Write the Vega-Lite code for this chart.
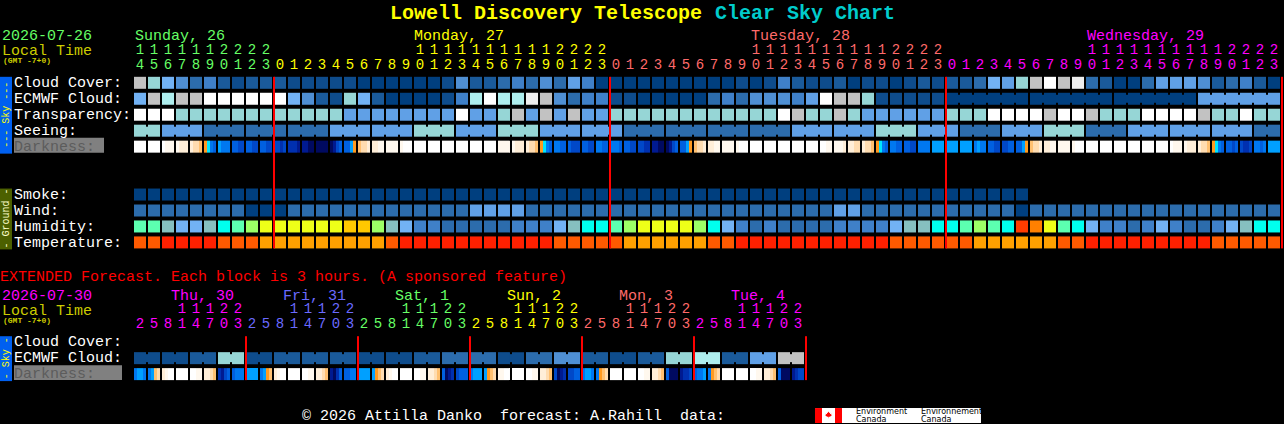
{"$schema":"https://vega.github.io/schema/vega-lite/v6.json","autosize":{"type":"fit","contains":"padding"},"width":1284,"height":424,"padding":0,"background":"#000000","config":{"view":{"stroke":null},"text":{"font":"Liberation Mono"}},
"datasets":{
"panels":[{"line":-0.375,"lineEnd":4.4375,"col":-10,"colEnd":-9.143,"level":"sky"},{"line":6.625,"lineEnd":10.4375,"col":-10,"colEnd":-9.143,"level":"ground"},{"line":15.875,"lineEnd":18.6875,"col":-10,"colEnd":-9.143,"level":"sky"},{"line":3.4375,"lineEnd":4.375,"col":-9,"colEnd":-2.571,"level":"band"},{"line":17.6875,"lineEnd":18.625,"col":-9,"colEnd":-1.286,"level":"band"},{"line":20.375,"lineEnd":21.3125,"col":48.214,"colEnd":60.071,"level":"twhite"},{"line":20.375,"lineEnd":21.3125,"col":48.214,"colEnd":48.714,"level":"tred"},{"line":20.375,"lineEnd":21.3125,"col":49.643,"colEnd":50.143,"level":"tred"}],
"cells":[
{"line":0,"col":0,"level":"p10"},{"line":0,"col":1,"level":"p8"},{"line":0,"col":2,"level":"p7"},{"line":0,"col":3,"level":"p5"},{"line":0,"col":4,"level":"p3"},{"line":0,"col":5,"level":"p4"},{"line":0,"col":6,"level":"p2"},{"line":0,"col":7,"level":"p1"},{"line":0,"col":8,"level":"p2"},{"line":0,"col":9,"level":"p2"},{"line":0,"col":10,"level":"p2"},{"line":0,"col":11,"level":"p1"},{"line":0,"col":12,"level":"p1"},{"line":0,"col":13,"level":"p1"},{"line":0,"col":14,"level":"p1"},{"line":0,"col":15,"level":"p1"},{"line":0,"col":16,"level":"p0"},{"line":0,"col":17,"level":"p0"},{"line":0,"col":18,"level":"p0"},{"line":0,"col":19,"level":"p0"},{"line":0,"col":20,"level":"p0"},{"line":0,"col":21,"level":"p0"},{"line":0,"col":22,"level":"p1"},{"line":0,"col":23,"level":"p5"},{"line":0,"col":24,"level":"p2"},{"line":0,"col":25,"level":"p2"},{"line":0,"col":26,"level":"p3"},{"line":0,"col":27,"level":"p4"},{"line":0,"col":28,"level":"p3"},{"line":0,"col":29,"level":"p5"},{"line":0,"col":30,"level":"p3"},{"line":0,"col":31,"level":"p6"},{"line":0,"col":32,"level":"p4"},{"line":0,"col":33,"level":"p0"},{"line":0,"col":34,"level":"p0"},{"line":0,"col":35,"level":"p0"},{"line":0,"col":36,"level":"p0"},{"line":0,"col":37,"level":"p0"},{"line":0,"col":38,"level":"p0"},{"line":0,"col":39,"level":"p0"},{"line":0,"col":40,"level":"p0"},{"line":0,"col":41,"level":"p0"},{"line":0,"col":42,"level":"p0"},{"line":0,"col":43,"level":"p1"},{"line":0,"col":44,"level":"p0"},{"line":0,"col":45,"level":"p1"},{"line":0,"col":46,"level":"p4"},{"line":0,"col":47,"level":"p2"},{"line":0,"col":48,"level":"p1"},{"line":0,"col":49,"level":"p1"},{"line":0,"col":50,"level":"p2"},{"line":0,"col":51,"level":"p0"},{"line":0,"col":52,"level":"p1"},{"line":0,"col":53,"level":"p1"},{"line":0,"col":54,"level":"p0"},{"line":0,"col":55,"level":"p1"},{"line":0,"col":56,"level":"p2"},{"line":0,"col":57,"level":"p1"},{"line":0,"col":58,"level":"p2"},{"line":0,"col":59,"level":"p2"},{"line":0,"col":60,"level":"p3"},{"line":0,"col":61,"level":"p7"},{"line":0,"col":62,"level":"p6"},{"line":0,"col":63,"level":"p8"},{"line":0,"col":64,"level":"p10"},{"line":0,"col":65,"level":"p12"},{"line":0,"col":66,"level":"p10"},{"line":0,"col":67,"level":"p11"},{"line":0,"col":68,"level":"p3"},{"line":0,"col":69,"level":"p2"},{"line":0,"col":70,"level":"p0"},{"line":0,"col":71,"level":"p0"},{"line":0,"col":72,"level":"p3"},{"line":0,"col":73,"level":"p6"},{"line":0,"col":74,"level":"p6"},{"line":0,"col":75,"level":"p6"},{"line":0,"col":76,"level":"p5"},{"line":0,"col":77,"level":"p2"},{"line":0,"col":78,"level":"p3"},{"line":0,"col":79,"level":"p4"},{"line":0,"col":80,"level":"p2"},{"line":0,"col":81,"level":"p0"},
{"line":1,"col":0,"level":"p7"},{"line":1,"col":1,"level":"p10"},{"line":1,"col":2,"level":"p9"},{"line":1,"col":3,"level":"p10"},{"line":1,"col":4,"level":"p10"},{"line":1,"col":5,"level":"p12"},{"line":1,"col":6,"level":"p12"},{"line":1,"col":7,"level":"p12"},{"line":1,"col":8,"level":"p12"},{"line":1,"col":9,"level":"p12"},{"line":1,"col":10,"level":"p12"},{"line":1,"col":11,"level":"p7"},{"line":1,"col":12,"level":"p5"},{"line":1,"col":13,"level":"p2"},{"line":1,"col":14,"level":"p1"},{"line":1,"col":15,"level":"p8"},{"line":1,"col":16,"level":"p7"},{"line":1,"col":17,"level":"p2"},{"line":1,"col":18,"level":"p0"},{"line":1,"col":19,"level":"p0"},{"line":1,"col":20,"level":"p0"},{"line":1,"col":21,"level":"p0"},{"line":1,"col":22,"level":"p1"},{"line":1,"col":23,"level":"p4"},{"line":1,"col":24,"level":"p9"},{"line":1,"col":25,"level":"p12"},{"line":1,"col":26,"level":"p9"},{"line":1,"col":27,"level":"p9"},{"line":1,"col":28,"level":"p11"},{"line":1,"col":29,"level":"p10"},{"line":1,"col":30,"level":"p5"},{"line":1,"col":31,"level":"p3"},{"line":1,"col":32,"level":"p4"},{"line":1,"col":33,"level":"p4"},{"line":1,"col":34,"level":"p1"},{"line":1,"col":35,"level":"p1"},{"line":1,"col":36,"level":"p0"},{"line":1,"col":37,"level":"p0"},{"line":1,"col":38,"level":"p0"},{"line":1,"col":39,"level":"p0"},{"line":1,"col":40,"level":"p0"},{"line":1,"col":41,"level":"p3"},{"line":1,"col":42,"level":"p4"},{"line":1,"col":43,"level":"p3"},{"line":1,"col":44,"level":"p5"},{"line":1,"col":45,"level":"p5"},{"line":1,"col":46,"level":"p5"},{"line":1,"col":47,"level":"p4"},{"line":1,"col":48,"level":"p6"},{"line":1,"col":49,"level":"p12"},{"line":1,"col":50,"level":"p10"},{"line":1,"col":51,"level":"p10"},{"line":1,"col":52,"level":"p8"},{"line":1,"col":53,"level":"p1"},{"line":1,"col":54,"level":"p1"},{"line":1,"col":55,"level":"p1"},{"line":1,"col":56,"level":"p1"},{"line":1,"col":57,"level":"p1"},{"line":1,"col":58,"level":"p0"},{"line":1,"col":59,"level":"p0"},{"line":1,"col":60,"level":"p0"},{"line":1,"col":61,"level":"p0"},{"line":1,"col":62,"level":"p0"},{"line":1,"col":63,"level":"p0"},{"line":1,"col":64,"level":"p0"},{"line":1,"col":65,"level":"p0"},{"line":1,"col":66,"level":"p0"},{"line":1,"col":67,"level":"p0"},{"line":1,"col":68,"level":"p0"},{"line":1,"col":69,"level":"p0"},{"line":1,"col":70,"level":"p0"},{"line":1,"col":71,"level":"p0"},{"line":1,"col":72,"level":"p0"},{"line":1,"col":73,"level":"p0"},{"line":1,"col":74,"level":"p0"},{"line":1,"col":75,"level":"p0"},{"line":1,"col":76,"level":"p6"},{"line":1,"col":77,"level":"p6"},{"line":1,"col":78,"level":"p6"},{"line":1,"col":79,"level":"p6"},{"line":1,"col":80,"level":"p6"},{"line":1,"col":81,"level":"p6"},
{"line":2,"col":0,"level":"p12"},{"line":2,"col":1,"level":"p12"},{"line":2,"col":2,"level":"p12"},{"line":2,"col":3,"level":"p8"},{"line":2,"col":4,"level":"p8"},{"line":2,"col":5,"level":"p8"},{"line":2,"col":6,"level":"p8"},{"line":2,"col":7,"level":"p8"},{"line":2,"col":8,"level":"p8"},{"line":2,"col":9,"level":"p8"},{"line":2,"col":10,"level":"p8"},{"line":2,"col":11,"level":"p8"},{"line":2,"col":12,"level":"p8"},{"line":2,"col":13,"level":"p8"},{"line":2,"col":14,"level":"p8"},{"line":2,"col":15,"level":"p6"},{"line":2,"col":16,"level":"p6"},{"line":2,"col":17,"level":"p6"},{"line":2,"col":18,"level":"p6"},{"line":2,"col":19,"level":"p6"},{"line":2,"col":20,"level":"p6"},{"line":2,"col":21,"level":"p6"},{"line":2,"col":22,"level":"p6"},{"line":2,"col":23,"level":"p12"},{"line":2,"col":24,"level":"p6"},{"line":2,"col":25,"level":"p6"},{"line":2,"col":26,"level":"p8"},{"line":2,"col":27,"level":"p10"},{"line":2,"col":28,"level":"p6"},{"line":2,"col":29,"level":"p10"},{"line":2,"col":30,"level":"p6"},{"line":2,"col":31,"level":"p10"},{"line":2,"col":32,"level":"p6"},{"line":2,"col":33,"level":"p6"},{"line":2,"col":34,"level":"p8"},{"line":2,"col":35,"level":"p8"},{"line":2,"col":36,"level":"p8"},{"line":2,"col":37,"level":"p8"},{"line":2,"col":38,"level":"p8"},{"line":2,"col":39,"level":"p8"},{"line":2,"col":40,"level":"p8"},{"line":2,"col":41,"level":"p8"},{"line":2,"col":42,"level":"p8"},{"line":2,"col":43,"level":"p8"},{"line":2,"col":44,"level":"p8"},{"line":2,"col":45,"level":"p8"},{"line":2,"col":46,"level":"p12"},{"line":2,"col":47,"level":"p10"},{"line":2,"col":48,"level":"p8"},{"line":2,"col":49,"level":"p8"},{"line":2,"col":50,"level":"p10"},{"line":2,"col":51,"level":"p8"},{"line":2,"col":52,"level":"p6"},{"line":2,"col":53,"level":"p6"},{"line":2,"col":54,"level":"p6"},{"line":2,"col":55,"level":"p6"},{"line":2,"col":56,"level":"p6"},{"line":2,"col":57,"level":"p6"},{"line":2,"col":58,"level":"p8"},{"line":2,"col":59,"level":"p8"},{"line":2,"col":60,"level":"p8"},{"line":2,"col":61,"level":"p12"},{"line":2,"col":62,"level":"p12"},{"line":2,"col":63,"level":"p12"},{"line":2,"col":64,"level":"p12"},{"line":2,"col":65,"level":"p10"},{"line":2,"col":66,"level":"p12"},{"line":2,"col":67,"level":"p12"},{"line":2,"col":68,"level":"p10"},{"line":2,"col":69,"level":"p8"},{"line":2,"col":70,"level":"p8"},{"line":2,"col":71,"level":"p8"},{"line":2,"col":72,"level":"p12"},{"line":2,"col":73,"level":"p12"},{"line":2,"col":74,"level":"p12"},{"line":2,"col":75,"level":"p12"},{"line":2,"col":76,"level":"p10"},{"line":2,"col":77,"level":"p8"},{"line":2,"col":78,"level":"p8"},{"line":2,"col":79,"level":"p12"},{"line":2,"col":80,"level":"p8"},{"line":2,"col":81,"level":"p8"},
{"line":3,"col":0,"level":"p8"},{"line":3,"col":1,"level":"p8"},{"line":3,"col":2,"level":"p6"},{"line":3,"col":3,"level":"p6"},{"line":3,"col":4,"level":"p6"},{"line":3,"col":5,"level":"p3"},{"line":3,"col":6,"level":"p3"},{"line":3,"col":7,"level":"p3"},{"line":3,"col":8,"level":"p3"},{"line":3,"col":9,"level":"p3"},{"line":3,"col":10,"level":"p3"},{"line":3,"col":11,"level":"p3"},{"line":3,"col":12,"level":"p3"},{"line":3,"col":13,"level":"p3"},{"line":3,"col":14,"level":"p6"},{"line":3,"col":15,"level":"p6"},{"line":3,"col":16,"level":"p6"},{"line":3,"col":17,"level":"p6"},{"line":3,"col":18,"level":"p6"},{"line":3,"col":19,"level":"p6"},{"line":3,"col":20,"level":"p8"},{"line":3,"col":21,"level":"p8"},{"line":3,"col":22,"level":"p8"},{"line":3,"col":23,"level":"p6"},{"line":3,"col":24,"level":"p6"},{"line":3,"col":25,"level":"p6"},{"line":3,"col":26,"level":"p8"},{"line":3,"col":27,"level":"p8"},{"line":3,"col":28,"level":"p8"},{"line":3,"col":29,"level":"p6"},{"line":3,"col":30,"level":"p6"},{"line":3,"col":31,"level":"p6"},{"line":3,"col":32,"level":"p6"},{"line":3,"col":33,"level":"p6"},{"line":3,"col":34,"level":"p6"},{"line":3,"col":35,"level":"p3"},{"line":3,"col":36,"level":"p3"},{"line":3,"col":37,"level":"p3"},{"line":3,"col":38,"level":"p3"},{"line":3,"col":39,"level":"p3"},{"line":3,"col":40,"level":"p3"},{"line":3,"col":41,"level":"p3"},{"line":3,"col":42,"level":"p3"},{"line":3,"col":43,"level":"p3"},{"line":3,"col":44,"level":"p3"},{"line":3,"col":45,"level":"p3"},{"line":3,"col":46,"level":"p3"},{"line":3,"col":47,"level":"p6"},{"line":3,"col":48,"level":"p6"},{"line":3,"col":49,"level":"p6"},{"line":3,"col":50,"level":"p6"},{"line":3,"col":51,"level":"p6"},{"line":3,"col":52,"level":"p6"},{"line":3,"col":53,"level":"p8"},{"line":3,"col":54,"level":"p8"},{"line":3,"col":55,"level":"p8"},{"line":3,"col":56,"level":"p6"},{"line":3,"col":57,"level":"p6"},{"line":3,"col":58,"level":"p6"},{"line":3,"col":59,"level":"p3"},{"line":3,"col":60,"level":"p3"},{"line":3,"col":61,"level":"p3"},{"line":3,"col":62,"level":"p6"},{"line":3,"col":63,"level":"p6"},{"line":3,"col":64,"level":"p6"},{"line":3,"col":65,"level":"p8"},{"line":3,"col":66,"level":"p8"},{"line":3,"col":67,"level":"p8"},{"line":3,"col":68,"level":"p3"},{"line":3,"col":69,"level":"p3"},{"line":3,"col":70,"level":"p3"},{"line":3,"col":71,"level":"p6"},{"line":3,"col":72,"level":"p6"},{"line":3,"col":73,"level":"p6"},{"line":3,"col":74,"level":"p6"},{"line":3,"col":75,"level":"p6"},{"line":3,"col":76,"level":"p6"},{"line":3,"col":77,"level":"p6"},{"line":3,"col":78,"level":"p6"},{"line":3,"col":79,"level":"p6"},{"line":3,"col":80,"level":"p3"},{"line":3,"col":81,"level":"p3"},
{"line":4,"col":0,"level":"d0"},{"line":4,"col":1,"level":"d0"},{"line":4,"col":13,"level":"d13"},{"line":4,"col":18,"level":"d1"},{"line":4,"col":20,"level":"d0"},{"line":4,"col":21,"level":"d0"},{"line":4,"col":22,"level":"d0"},{"line":4,"col":23,"level":"d0"},{"line":4,"col":24,"level":"d0"},{"line":4,"col":25,"level":"d0"},{"line":4,"col":26,"level":"d1"},{"line":4,"col":42,"level":"d1"},{"line":4,"col":44,"level":"d0"},{"line":4,"col":45,"level":"d0"},{"line":4,"col":46,"level":"d0"},{"line":4,"col":47,"level":"d0"},{"line":4,"col":48,"level":"d0"},{"line":4,"col":56,"level":"d8"},{"line":4,"col":57,"level":"d7"},{"line":4,"col":58,"level":"d7"},{"line":4,"col":59,"level":"d7"},{"line":4,"col":66,"level":"d1"},{"line":4,"col":68,"level":"d0"},{"line":4,"col":69,"level":"d0"},{"line":4,"col":70,"level":"d0"},{"line":4,"col":71,"level":"d0"},{"line":4,"col":72,"level":"d0"},{"line":4,"col":73,"level":"d0"},{"line":4,"col":81,"level":"d7"},
{"line":7,"col":0,"level":"p0"},{"line":7,"col":1,"level":"p0"},{"line":7,"col":2,"level":"p0"},{"line":7,"col":3,"level":"p0"},{"line":7,"col":4,"level":"p0"},{"line":7,"col":5,"level":"p0"},{"line":7,"col":6,"level":"p0"},{"line":7,"col":7,"level":"p0"},{"line":7,"col":8,"level":"p0"},{"line":7,"col":9,"level":"p0"},{"line":7,"col":10,"level":"p0"},{"line":7,"col":11,"level":"p0"},{"line":7,"col":12,"level":"p0"},{"line":7,"col":13,"level":"p0"},{"line":7,"col":14,"level":"p0"},{"line":7,"col":15,"level":"p0"},{"line":7,"col":16,"level":"p0"},{"line":7,"col":17,"level":"p0"},{"line":7,"col":18,"level":"p0"},{"line":7,"col":19,"level":"p0"},{"line":7,"col":20,"level":"p0"},{"line":7,"col":21,"level":"p0"},{"line":7,"col":22,"level":"p0"},{"line":7,"col":23,"level":"p0"},{"line":7,"col":24,"level":"p0"},{"line":7,"col":25,"level":"p0"},{"line":7,"col":26,"level":"p0"},{"line":7,"col":27,"level":"p0"},{"line":7,"col":28,"level":"p0"},{"line":7,"col":29,"level":"p0"},{"line":7,"col":30,"level":"p0"},{"line":7,"col":31,"level":"p0"},{"line":7,"col":32,"level":"p0"},{"line":7,"col":33,"level":"p0"},{"line":7,"col":34,"level":"p0"},{"line":7,"col":35,"level":"p0"},{"line":7,"col":36,"level":"p0"},{"line":7,"col":37,"level":"p0"},{"line":7,"col":38,"level":"p0"},{"line":7,"col":39,"level":"p0"},{"line":7,"col":40,"level":"p0"},{"line":7,"col":41,"level":"p0"},{"line":7,"col":42,"level":"p0"},{"line":7,"col":43,"level":"p0"},{"line":7,"col":44,"level":"p0"},{"line":7,"col":45,"level":"p0"},{"line":7,"col":46,"level":"p0"},{"line":7,"col":47,"level":"p0"},{"line":7,"col":48,"level":"p0"},{"line":7,"col":49,"level":"p0"},{"line":7,"col":50,"level":"p0"},{"line":7,"col":51,"level":"p0"},{"line":7,"col":52,"level":"p0"},{"line":7,"col":53,"level":"p0"},{"line":7,"col":54,"level":"p0"},{"line":7,"col":55,"level":"p0"},{"line":7,"col":56,"level":"p0"},{"line":7,"col":57,"level":"p0"},{"line":7,"col":58,"level":"p0"},{"line":7,"col":59,"level":"p0"},{"line":7,"col":60,"level":"p0"},{"line":7,"col":61,"level":"p0"},{"line":7,"col":62,"level":"p0"},{"line":7,"col":63,"level":"p0"},
{"line":8,"col":0,"level":"p3"},{"line":8,"col":1,"level":"p3"},{"line":8,"col":2,"level":"p3"},{"line":8,"col":3,"level":"p3"},{"line":8,"col":4,"level":"p3"},{"line":8,"col":5,"level":"p3"},{"line":8,"col":6,"level":"p3"},{"line":8,"col":7,"level":"p3"},{"line":8,"col":8,"level":"p0"},{"line":8,"col":9,"level":"p0"},{"line":8,"col":10,"level":"p0"},{"line":8,"col":11,"level":"p3"},{"line":8,"col":12,"level":"p3"},{"line":8,"col":13,"level":"p3"},{"line":8,"col":14,"level":"p3"},{"line":8,"col":15,"level":"p3"},{"line":8,"col":16,"level":"p3"},{"line":8,"col":17,"level":"p3"},{"line":8,"col":18,"level":"p3"},{"line":8,"col":19,"level":"p3"},{"line":8,"col":20,"level":"p3"},{"line":8,"col":21,"level":"p3"},{"line":8,"col":22,"level":"p3"},{"line":8,"col":23,"level":"p3"},{"line":8,"col":24,"level":"p6"},{"line":8,"col":25,"level":"p6"},{"line":8,"col":26,"level":"p6"},{"line":8,"col":27,"level":"p6"},{"line":8,"col":28,"level":"p3"},{"line":8,"col":29,"level":"p3"},{"line":8,"col":30,"level":"p3"},{"line":8,"col":31,"level":"p3"},{"line":8,"col":32,"level":"p3"},{"line":8,"col":33,"level":"p3"},{"line":8,"col":34,"level":"p3"},{"line":8,"col":35,"level":"p3"},{"line":8,"col":36,"level":"p3"},{"line":8,"col":37,"level":"p3"},{"line":8,"col":38,"level":"p3"},{"line":8,"col":39,"level":"p3"},{"line":8,"col":40,"level":"p3"},{"line":8,"col":41,"level":"p3"},{"line":8,"col":42,"level":"p3"},{"line":8,"col":43,"level":"p3"},{"line":8,"col":44,"level":"p3"},{"line":8,"col":45,"level":"p3"},{"line":8,"col":46,"level":"p3"},{"line":8,"col":47,"level":"p3"},{"line":8,"col":48,"level":"p3"},{"line":8,"col":49,"level":"p3"},{"line":8,"col":50,"level":"p6"},{"line":8,"col":51,"level":"p6"},{"line":8,"col":52,"level":"p3"},{"line":8,"col":53,"level":"p3"},{"line":8,"col":54,"level":"p3"},{"line":8,"col":55,"level":"p3"},{"line":8,"col":56,"level":"p3"},{"line":8,"col":57,"level":"p3"},{"line":8,"col":58,"level":"p3"},{"line":8,"col":59,"level":"p3"},{"line":8,"col":60,"level":"p3"},{"line":8,"col":61,"level":"p3"},{"line":8,"col":62,"level":"p3"},{"line":8,"col":63,"level":"p0"},{"line":8,"col":64,"level":"p3"},{"line":8,"col":65,"level":"p3"},{"line":8,"col":66,"level":"p3"},{"line":8,"col":67,"level":"p3"},{"line":8,"col":68,"level":"p3"},{"line":8,"col":69,"level":"p3"},{"line":8,"col":70,"level":"p3"},{"line":8,"col":71,"level":"p3"},{"line":8,"col":72,"level":"p3"},{"line":8,"col":73,"level":"p3"},{"line":8,"col":74,"level":"p3"},{"line":8,"col":75,"level":"p3"},{"line":8,"col":76,"level":"p3"},{"line":8,"col":77,"level":"p3"},{"line":8,"col":78,"level":"p3"},{"line":8,"col":79,"level":"p3"},{"line":8,"col":80,"level":"p3"},{"line":8,"col":81,"level":"p3"},
{"line":9,"col":0,"level":"mint"},{"line":9,"col":1,"level":"mint"},{"line":9,"col":2,"level":"sage"},{"line":9,"col":3,"level":"p7"},{"line":9,"col":4,"level":"p7"},{"line":9,"col":5,"level":"sage"},{"line":9,"col":6,"level":"cyan"},{"line":9,"col":7,"level":"mint"},{"line":9,"col":8,"level":"lime"},{"line":9,"col":9,"level":"lemon"},{"line":9,"col":10,"level":"lemon"},{"line":9,"col":11,"level":"lemon"},{"line":9,"col":12,"level":"lemon"},{"line":9,"col":13,"level":"lemon"},{"line":9,"col":14,"level":"lemon"},{"line":9,"col":15,"level":"gold"},{"line":9,"col":16,"level":"gold"},{"line":9,"col":17,"level":"lime"},{"line":9,"col":18,"level":"sage"},{"line":9,"col":19,"level":"p7"},{"line":9,"col":20,"level":"p4"},{"line":9,"col":21,"level":"p4"},{"line":9,"col":22,"level":"p3"},{"line":9,"col":23,"level":"p3"},{"line":9,"col":24,"level":"p3"},{"line":9,"col":25,"level":"p3"},{"line":9,"col":26,"level":"p3"},{"line":9,"col":27,"level":"p4"},{"line":9,"col":28,"level":"p4"},{"line":9,"col":29,"level":"p4"},{"line":9,"col":30,"level":"p7"},{"line":9,"col":31,"level":"sage"},{"line":9,"col":32,"level":"cyan"},{"line":9,"col":33,"level":"cyan"},{"line":9,"col":34,"level":"mint"},{"line":9,"col":35,"level":"lime"},{"line":9,"col":36,"level":"lemon"},{"line":9,"col":37,"level":"lemon"},{"line":9,"col":38,"level":"lemon"},{"line":9,"col":39,"level":"lemon"},{"line":9,"col":40,"level":"lime"},{"line":9,"col":41,"level":"cyan"},{"line":9,"col":42,"level":"p7"},{"line":9,"col":43,"level":"p4"},{"line":9,"col":44,"level":"p3"},{"line":9,"col":45,"level":"p4"},{"line":9,"col":46,"level":"p3"},{"line":9,"col":47,"level":"p3"},{"line":9,"col":48,"level":"p3"},{"line":9,"col":49,"level":"p3"},{"line":9,"col":50,"level":"p4"},{"line":9,"col":51,"level":"p4"},{"line":9,"col":52,"level":"p4"},{"line":9,"col":53,"level":"p4"},{"line":9,"col":54,"level":"p7"},{"line":9,"col":55,"level":"sage"},{"line":9,"col":56,"level":"sage"},{"line":9,"col":57,"level":"cyan"},{"line":9,"col":58,"level":"cyan"},{"line":9,"col":59,"level":"mint"},{"line":9,"col":60,"level":"lime"},{"line":9,"col":61,"level":"mint"},{"line":9,"col":62,"level":"cyan"},{"line":9,"col":63,"level":"scarlet"},{"line":9,"col":64,"level":"tangerine"},{"line":9,"col":65,"level":"lemon"},{"line":9,"col":66,"level":"mint"},{"line":9,"col":67,"level":"cyan"},{"line":9,"col":68,"level":"p7"},{"line":9,"col":69,"level":"p4"},{"line":9,"col":70,"level":"p4"},{"line":9,"col":71,"level":"p3"},{"line":9,"col":72,"level":"p4"},{"line":9,"col":73,"level":"p7"},{"line":9,"col":74,"level":"p4"},{"line":9,"col":75,"level":"p3"},{"line":9,"col":76,"level":"p3"},{"line":9,"col":77,"level":"p4"},{"line":9,"col":78,"level":"p7"},{"line":9,"col":79,"level":"sage"},{"line":9,"col":80,"level":"cyan"},{"line":9,"col":81,"level":"cyan"},
{"line":10,"col":0,"level":"hot"},{"line":10,"col":1,"level":"hot"},{"line":10,"col":2,"level":"fire"},{"line":10,"col":3,"level":"fire"},{"line":10,"col":4,"level":"fire"},{"line":10,"col":5,"level":"fire"},{"line":10,"col":6,"level":"hot"},{"line":10,"col":7,"level":"hot"},{"line":10,"col":8,"level":"hot"},{"line":10,"col":9,"level":"amber"},{"line":10,"col":10,"level":"amber"},{"line":10,"col":11,"level":"amber"},{"line":10,"col":12,"level":"amber"},{"line":10,"col":13,"level":"amber"},{"line":10,"col":14,"level":"amber"},{"line":10,"col":15,"level":"amber"},{"line":10,"col":16,"level":"amber"},{"line":10,"col":17,"level":"amber"},{"line":10,"col":18,"level":"hot"},{"line":10,"col":19,"level":"fire"},{"line":10,"col":20,"level":"fire"},{"line":10,"col":21,"level":"fire"},{"line":10,"col":22,"level":"fire"},{"line":10,"col":23,"level":"fire"},{"line":10,"col":24,"level":"fire"},{"line":10,"col":25,"level":"fire"},{"line":10,"col":26,"level":"fire"},{"line":10,"col":27,"level":"fire"},{"line":10,"col":28,"level":"fire"},{"line":10,"col":29,"level":"fire"},{"line":10,"col":30,"level":"hot"},{"line":10,"col":31,"level":"hot"},{"line":10,"col":32,"level":"hot"},{"line":10,"col":33,"level":"hot"},{"line":10,"col":34,"level":"hot"},{"line":10,"col":35,"level":"amber"},{"line":10,"col":36,"level":"amber"},{"line":10,"col":37,"level":"amber"},{"line":10,"col":38,"level":"amber"},{"line":10,"col":39,"level":"amber"},{"line":10,"col":40,"level":"amber"},{"line":10,"col":41,"level":"hot"},{"line":10,"col":42,"level":"hot"},{"line":10,"col":43,"level":"fire"},{"line":10,"col":44,"level":"fire"},{"line":10,"col":45,"level":"fire"},{"line":10,"col":46,"level":"fire"},{"line":10,"col":47,"level":"fire"},{"line":10,"col":48,"level":"fire"},{"line":10,"col":49,"level":"fire"},{"line":10,"col":50,"level":"fire"},{"line":10,"col":51,"level":"fire"},{"line":10,"col":52,"level":"fire"},{"line":10,"col":53,"level":"fire"},{"line":10,"col":54,"level":"hot"},{"line":10,"col":55,"level":"hot"},{"line":10,"col":56,"level":"hot"},{"line":10,"col":57,"level":"hot"},{"line":10,"col":58,"level":"hot"},{"line":10,"col":59,"level":"hot"},{"line":10,"col":60,"level":"amber"},{"line":10,"col":61,"level":"amber"},{"line":10,"col":62,"level":"amber"},{"line":10,"col":63,"level":"amber"},{"line":10,"col":64,"level":"amber"},{"line":10,"col":65,"level":"amber"},{"line":10,"col":66,"level":"hot"},{"line":10,"col":67,"level":"hot"},{"line":10,"col":68,"level":"fire"},{"line":10,"col":69,"level":"fire"},{"line":10,"col":70,"level":"fire"},{"line":10,"col":71,"level":"fire"},{"line":10,"col":72,"level":"fire"},{"line":10,"col":73,"level":"fire"},{"line":10,"col":74,"level":"fire"},{"line":10,"col":75,"level":"fire"},{"line":10,"col":76,"level":"fire"},{"line":10,"col":77,"level":"hot"},{"line":10,"col":78,"level":"hot"},{"line":10,"col":79,"level":"hot"},{"line":10,"col":80,"level":"hot"},{"line":10,"col":81,"level":"hot"},
{"line":17.25,"col":0,"level":"p1"},{"line":17.25,"col":1,"level":"p1"},{"line":17.25,"col":2,"level":"p1"},{"line":17.25,"col":3,"level":"p1"},{"line":17.25,"col":4,"level":"p2"},{"line":17.25,"col":5,"level":"p2"},{"line":17.25,"col":6,"level":"p8"},{"line":17.25,"col":7,"level":"p8"},{"line":17.25,"col":8,"level":"p1"},{"line":17.25,"col":9,"level":"p1"},{"line":17.25,"col":10,"level":"p2"},{"line":17.25,"col":11,"level":"p2"},{"line":17.25,"col":12,"level":"p2"},{"line":17.25,"col":13,"level":"p2"},{"line":17.25,"col":14,"level":"p2"},{"line":17.25,"col":15,"level":"p2"},{"line":17.25,"col":16,"level":"p1"},{"line":17.25,"col":17,"level":"p1"},{"line":17.25,"col":18,"level":"p1"},{"line":17.25,"col":19,"level":"p1"},{"line":17.25,"col":20,"level":"p2"},{"line":17.25,"col":21,"level":"p2"},{"line":17.25,"col":22,"level":"p3"},{"line":17.25,"col":23,"level":"p3"},{"line":17.25,"col":24,"level":"p3"},{"line":17.25,"col":25,"level":"p3"},{"line":17.25,"col":26,"level":"p1"},{"line":17.25,"col":27,"level":"p1"},{"line":17.25,"col":28,"level":"p3"},{"line":17.25,"col":29,"level":"p3"},{"line":17.25,"col":30,"level":"p5"},{"line":17.25,"col":31,"level":"p5"},{"line":17.25,"col":32,"level":"p2"},{"line":17.25,"col":33,"level":"p2"},{"line":17.25,"col":34,"level":"p1"},{"line":17.25,"col":35,"level":"p1"},{"line":17.25,"col":36,"level":"p2"},{"line":17.25,"col":37,"level":"p2"},{"line":17.25,"col":38,"level":"p8"},{"line":17.25,"col":39,"level":"p8"},{"line":17.25,"col":40,"level":"p9"},{"line":17.25,"col":41,"level":"p9"},{"line":17.25,"col":42,"level":"p2"},{"line":17.25,"col":43,"level":"p2"},{"line":17.25,"col":44,"level":"p6"},{"line":17.25,"col":45,"level":"p6"},{"line":17.25,"col":46,"level":"p10"},{"line":17.25,"col":47,"level":"p10"},
{"line":18.25,"col":3,"level":"d0"},{"line":18.25,"col":11,"level":"d0"},{"line":18.25,"col":19,"level":"d0"},{"line":18.25,"col":27,"level":"d0"},{"line":18.25,"col":34,"level":"d0"},{"line":18.25,"col":35,"level":"d0"},{"line":18.25,"col":42,"level":"d0"},{"line":18.25,"col":43,"level":"d0"},{"line":18.25,"col":8,"level":"d7"},{"line":18.25,"col":16,"level":"d7"},{"line":18.25,"col":44,"level":"d1"}],
"strips":[
{"line":4,"col":1.6786,"level":"d0"},{"line":4,"col":1.8929,"level":"d1"},{"line":4,"col":2.1071,"level":"d1"},{"line":4,"col":2.3214,"level":"d1"},
{"line":4,"col":2.6786,"level":"d1"},{"line":4,"col":2.8929,"level":"d2"},{"line":4,"col":3.1071,"level":"d2"},{"line":4,"col":3.3214,"level":"d2"},
{"line":4,"col":3.6786,"level":"d2"},{"line":4,"col":3.8929,"level":"d3"},{"line":4,"col":4.1071,"level":"d3"},{"line":4,"col":4.3214,"level":"d4"},
{"line":4,"col":4.6786,"level":"d5"},{"line":4,"col":4.8929,"level":"d6"},{"line":4,"col":5.1071,"level":"d8"},{"line":4,"col":5.3214,"level":"d9"},
{"line":4,"col":5.6786,"level":"d7"},{"line":4,"col":5.8929,"level":"d8"},{"line":4,"col":6.1071,"level":"d8"},{"line":4,"col":6.3214,"level":"d8"},
{"line":4,"col":6.6786,"level":"d9"},{"line":4,"col":6.8929,"level":"d9"},{"line":4,"col":7.1071,"level":"d10"},{"line":4,"col":7.3214,"level":"d10"},
{"line":4,"col":7.6786,"level":"d9"},{"line":4,"col":7.8929,"level":"d9"},{"line":4,"col":8.1071,"level":"d10"},{"line":4,"col":8.3214,"level":"d10"},
{"line":4,"col":8.6786,"level":"d9"},{"line":4,"col":8.8929,"level":"d9"},{"line":4,"col":9.1071,"level":"d10"},{"line":4,"col":9.3214,"level":"d10"},
{"line":4,"col":9.6786,"level":"d10"},{"line":4,"col":9.8929,"level":"d10"},{"line":4,"col":10.1071,"level":"d11"},{"line":4,"col":10.3214,"level":"d10"},
{"line":4,"col":10.6786,"level":"d11"},{"line":4,"col":10.8929,"level":"d11"},{"line":4,"col":11.1071,"level":"d11"},{"line":4,"col":11.3214,"level":"d12"},
{"line":4,"col":11.6786,"level":"d12"},{"line":4,"col":11.8929,"level":"d12"},{"line":4,"col":12.1071,"level":"d13"},{"line":4,"col":12.3214,"level":"d13"},
{"line":4,"col":13.6786,"level":"d13"},{"line":4,"col":13.8929,"level":"d12"},{"line":4,"col":14.1071,"level":"d10"},{"line":4,"col":14.3214,"level":"d9"},
{"line":4,"col":14.6786,"level":"d9"},{"line":4,"col":14.8929,"level":"d9"},{"line":4,"col":15.1071,"level":"d7"},{"line":4,"col":15.3214,"level":"d5"},
{"line":4,"col":15.6786,"level":"d4"},{"line":4,"col":15.8929,"level":"d3"},{"line":4,"col":16.1071,"level":"d3"},{"line":4,"col":16.3214,"level":"d2"},
{"line":4,"col":16.6786,"level":"d2"},{"line":4,"col":16.8929,"level":"d2"},{"line":4,"col":17.1071,"level":"d1"},{"line":4,"col":17.3214,"level":"d1"},
{"line":4,"col":18.6786,"level":"d1"},{"line":4,"col":18.8929,"level":"d0"},{"line":4,"col":19.1071,"level":"d0"},{"line":4,"col":19.3214,"level":"d0"},
{"line":4,"col":26.6786,"level":"d1"},{"line":4,"col":26.8929,"level":"d2"},{"line":4,"col":27.1071,"level":"d2"},{"line":4,"col":27.3214,"level":"d2"},
{"line":4,"col":27.6786,"level":"d2"},{"line":4,"col":27.8929,"level":"d3"},{"line":4,"col":28.1071,"level":"d3"},{"line":4,"col":28.3214,"level":"d4"},
{"line":4,"col":28.6786,"level":"d5"},{"line":4,"col":28.8929,"level":"d6"},{"line":4,"col":29.1071,"level":"d8"},{"line":4,"col":29.3214,"level":"d9"},
{"line":4,"col":29.6786,"level":"d8"},{"line":4,"col":29.8929,"level":"d8"},{"line":4,"col":30.1071,"level":"d9"},{"line":4,"col":30.3214,"level":"d9"},
{"line":4,"col":30.6786,"level":"d9"},{"line":4,"col":30.8929,"level":"d10"},{"line":4,"col":31.1071,"level":"d10"},{"line":4,"col":31.3214,"level":"d10"},
{"line":4,"col":31.6786,"level":"d9"},{"line":4,"col":31.8929,"level":"d9"},{"line":4,"col":32.1071,"level":"d10"},{"line":4,"col":32.3214,"level":"d10"},
{"line":4,"col":32.6786,"level":"d8"},{"line":4,"col":32.8929,"level":"d8"},{"line":4,"col":33.1071,"level":"d9"},{"line":4,"col":33.3214,"level":"d9"},
{"line":4,"col":33.6786,"level":"d8"},{"line":4,"col":33.8929,"level":"d8"},{"line":4,"col":34.1071,"level":"d8"},{"line":4,"col":34.3214,"level":"d9"},
{"line":4,"col":34.6786,"level":"d9"},{"line":4,"col":34.8929,"level":"d9"},{"line":4,"col":35.1071,"level":"d10"},{"line":4,"col":35.3214,"level":"d10"},
{"line":4,"col":35.6786,"level":"d10"},{"line":4,"col":35.8929,"level":"d10"},{"line":4,"col":36.1071,"level":"d11"},{"line":4,"col":36.3214,"level":"d11"},
{"line":4,"col":36.6786,"level":"d12"},{"line":4,"col":36.8929,"level":"d12"},{"line":4,"col":37.1071,"level":"d13"},{"line":4,"col":37.3214,"level":"d13"},
{"line":4,"col":37.6786,"level":"d13"},{"line":4,"col":37.8929,"level":"d12"},{"line":4,"col":38.1071,"level":"d10"},{"line":4,"col":38.3214,"level":"d9"},
{"line":4,"col":38.6786,"level":"d9"},{"line":4,"col":38.8929,"level":"d9"},{"line":4,"col":39.1071,"level":"d7"},{"line":4,"col":39.3214,"level":"d5"},
{"line":4,"col":39.6786,"level":"d4"},{"line":4,"col":39.8929,"level":"d3"},{"line":4,"col":40.1071,"level":"d3"},{"line":4,"col":40.3214,"level":"d2"},
{"line":4,"col":40.6786,"level":"d2"},{"line":4,"col":40.8929,"level":"d2"},{"line":4,"col":41.1071,"level":"d1"},{"line":4,"col":41.3214,"level":"d1"},
{"line":4,"col":42.6786,"level":"d1"},{"line":4,"col":42.8929,"level":"d0"},{"line":4,"col":43.1071,"level":"d0"},{"line":4,"col":43.3214,"level":"d0"},
{"line":4,"col":48.6786,"level":"d0"},{"line":4,"col":48.8929,"level":"d0"},{"line":4,"col":49.1071,"level":"d1"},{"line":4,"col":49.3214,"level":"d1"},
{"line":4,"col":49.6786,"level":"d1"},{"line":4,"col":49.8929,"level":"d1"},{"line":4,"col":50.1071,"level":"d1"},{"line":4,"col":50.3214,"level":"d2"},
{"line":4,"col":50.6786,"level":"d2"},{"line":4,"col":50.8929,"level":"d2"},{"line":4,"col":51.1071,"level":"d3"},{"line":4,"col":51.3214,"level":"d3"},
{"line":4,"col":51.6786,"level":"d2"},{"line":4,"col":51.8929,"level":"d3"},{"line":4,"col":52.1071,"level":"d3"},{"line":4,"col":52.3214,"level":"d4"},
{"line":4,"col":52.6786,"level":"d5"},{"line":4,"col":52.8929,"level":"d6"},{"line":4,"col":53.1071,"level":"d8"},{"line":4,"col":53.3214,"level":"d9"},
{"line":4,"col":53.6786,"level":"d8"},{"line":4,"col":53.8929,"level":"d8"},{"line":4,"col":54.1071,"level":"d9"},{"line":4,"col":54.3214,"level":"d9"},
{"line":4,"col":54.6786,"level":"d9"},{"line":4,"col":54.8929,"level":"d9"},{"line":4,"col":55.1071,"level":"d10"},{"line":4,"col":55.3214,"level":"d10"},
{"line":4,"col":59.6786,"level":"d8"},{"line":4,"col":59.8929,"level":"d7"},{"line":4,"col":60.1071,"level":"d8"},{"line":4,"col":60.3214,"level":"d8"},
{"line":4,"col":60.6786,"level":"d9"},{"line":4,"col":60.8929,"level":"d9"},{"line":4,"col":61.1071,"level":"d10"},{"line":4,"col":61.3214,"level":"d10"},
{"line":4,"col":61.6786,"level":"d10"},{"line":4,"col":61.8929,"level":"d10"},{"line":4,"col":62.1071,"level":"d9"},{"line":4,"col":62.3214,"level":"d9"},
{"line":4,"col":62.6786,"level":"d9"},{"line":4,"col":62.8929,"level":"d9"},{"line":4,"col":63.1071,"level":"d7"},{"line":4,"col":63.3214,"level":"d5"},
{"line":4,"col":63.6786,"level":"d4"},{"line":4,"col":63.8929,"level":"d3"},{"line":4,"col":64.1071,"level":"d3"},{"line":4,"col":64.3214,"level":"d2"},
{"line":4,"col":64.6786,"level":"d2"},{"line":4,"col":64.8929,"level":"d2"},{"line":4,"col":65.1071,"level":"d1"},{"line":4,"col":65.3214,"level":"d1"},
{"line":4,"col":66.6786,"level":"d1"},{"line":4,"col":66.8929,"level":"d0"},{"line":4,"col":67.1071,"level":"d0"},{"line":4,"col":67.3214,"level":"d0"},
{"line":4,"col":73.6786,"level":"d0"},{"line":4,"col":73.8929,"level":"d1"},{"line":4,"col":74.1071,"level":"d1"},{"line":4,"col":74.3214,"level":"d1"},
{"line":4,"col":74.6786,"level":"d1"},{"line":4,"col":74.8929,"level":"d2"},{"line":4,"col":75.1071,"level":"d2"},{"line":4,"col":75.3214,"level":"d2"},
{"line":4,"col":75.6786,"level":"d2"},{"line":4,"col":75.8929,"level":"d3"},{"line":4,"col":76.1071,"level":"d3"},{"line":4,"col":76.3214,"level":"d4"},
{"line":4,"col":76.6786,"level":"d5"},{"line":4,"col":76.8929,"level":"d6"},{"line":4,"col":77.1071,"level":"d8"},{"line":4,"col":77.3214,"level":"d9"},
{"line":4,"col":77.6786,"level":"d9"},{"line":4,"col":77.8929,"level":"d9"},{"line":4,"col":78.1071,"level":"d10"},{"line":4,"col":78.3214,"level":"d9"},
{"line":4,"col":78.6786,"level":"d10"},{"line":4,"col":78.8929,"level":"d11"},{"line":4,"col":79.1071,"level":"d11"},{"line":4,"col":79.3214,"level":"d10"},
{"line":4,"col":79.6786,"level":"d8"},{"line":4,"col":79.8929,"level":"d8"},{"line":4,"col":80.1071,"level":"d9"},{"line":4,"col":80.3214,"level":"d8"},
{"line":18.25,"col":-0.3214,"level":"d8"},{"line":18.25,"col":-0.1071,"level":"d7"},{"line":18.25,"col":0.1071,"level":"d7"},{"line":18.25,"col":0.3214,"level":"d8"},
{"line":18.25,"col":0.6786,"level":"d8"},{"line":18.25,"col":0.8929,"level":"d7"},{"line":18.25,"col":1.1071,"level":"d4"},{"line":18.25,"col":1.3214,"level":"d3"},
{"line":18.25,"col":1.6786,"level":"d2"},{"line":18.25,"col":1.8929,"level":"d1"},{"line":18.25,"col":2.1071,"level":"d0"},{"line":18.25,"col":2.3214,"level":"d0"},
{"line":18.25,"col":3.6786,"level":"d0"},{"line":18.25,"col":3.8929,"level":"d0"},{"line":18.25,"col":4.1071,"level":"d1"},{"line":18.25,"col":4.3214,"level":"d1"},
{"line":18.25,"col":4.6786,"level":"d2"},{"line":18.25,"col":4.8929,"level":"d2"},{"line":18.25,"col":5.1071,"level":"d3"},{"line":18.25,"col":5.3214,"level":"d4"},
{"line":18.25,"col":5.6786,"level":"d11"},{"line":18.25,"col":5.8929,"level":"d12"},{"line":18.25,"col":6.1071,"level":"d10"},{"line":18.25,"col":6.3214,"level":"d9"},
{"line":18.25,"col":6.6786,"level":"d9"},{"line":18.25,"col":6.8929,"level":"d8"},{"line":18.25,"col":7.1071,"level":"d8"},{"line":18.25,"col":7.3214,"level":"d8"},
{"line":18.25,"col":8.6786,"level":"d8"},{"line":18.25,"col":8.8929,"level":"d7"},{"line":18.25,"col":9.1071,"level":"d5"},{"line":18.25,"col":9.3214,"level":"d4"},
{"line":18.25,"col":9.6786,"level":"d2"},{"line":18.25,"col":9.8929,"level":"d1"},{"line":18.25,"col":10.1071,"level":"d0"},{"line":18.25,"col":10.3214,"level":"d0"},
{"line":18.25,"col":11.6786,"level":"d0"},{"line":18.25,"col":11.8929,"level":"d0"},{"line":18.25,"col":12.1071,"level":"d1"},{"line":18.25,"col":12.3214,"level":"d1"},
{"line":18.25,"col":12.6786,"level":"d2"},{"line":18.25,"col":12.8929,"level":"d2"},{"line":18.25,"col":13.1071,"level":"d3"},{"line":18.25,"col":13.3214,"level":"d4"},
{"line":18.25,"col":13.6786,"level":"d12"},{"line":18.25,"col":13.8929,"level":"d13"},{"line":18.25,"col":14.1071,"level":"d11"},{"line":18.25,"col":14.3214,"level":"d9"},
{"line":18.25,"col":14.6786,"level":"d9"},{"line":18.25,"col":14.8929,"level":"d9"},{"line":18.25,"col":15.1071,"level":"d8"},{"line":18.25,"col":15.3214,"level":"d8"},
{"line":18.25,"col":16.6786,"level":"d7"},{"line":18.25,"col":16.8929,"level":"d5"},{"line":18.25,"col":17.1071,"level":"d4"},{"line":18.25,"col":17.3214,"level":"d3"},
{"line":18.25,"col":17.6786,"level":"d2"},{"line":18.25,"col":17.8929,"level":"d1"},{"line":18.25,"col":18.1071,"level":"d0"},{"line":18.25,"col":18.3214,"level":"d0"},
{"line":18.25,"col":19.6786,"level":"d0"},{"line":18.25,"col":19.8929,"level":"d0"},{"line":18.25,"col":20.1071,"level":"d1"},{"line":18.25,"col":20.3214,"level":"d1"},
{"line":18.25,"col":20.6786,"level":"d2"},{"line":18.25,"col":20.8929,"level":"d2"},{"line":18.25,"col":21.1071,"level":"d3"},{"line":18.25,"col":21.3214,"level":"d4"},
{"line":18.25,"col":21.6786,"level":"d9"},{"line":18.25,"col":21.8929,"level":"d13"},{"line":18.25,"col":22.1071,"level":"d12"},{"line":18.25,"col":22.3214,"level":"d11"},
{"line":18.25,"col":22.6786,"level":"d10"},{"line":18.25,"col":22.8929,"level":"d9"},{"line":18.25,"col":23.1071,"level":"d9"},{"line":18.25,"col":23.3214,"level":"d9"},
{"line":18.25,"col":23.6786,"level":"d8"},{"line":18.25,"col":23.8929,"level":"d7"},{"line":18.25,"col":24.1071,"level":"d7"},{"line":18.25,"col":24.3214,"level":"d7"},
{"line":18.25,"col":24.6786,"level":"d7"},{"line":18.25,"col":24.8929,"level":"d5"},{"line":18.25,"col":25.1071,"level":"d4"},{"line":18.25,"col":25.3214,"level":"d3"},
{"line":18.25,"col":25.6786,"level":"d1"},{"line":18.25,"col":25.8929,"level":"d1"},{"line":18.25,"col":26.1071,"level":"d0"},{"line":18.25,"col":26.3214,"level":"d0"},
{"line":18.25,"col":27.6786,"level":"d0"},{"line":18.25,"col":27.8929,"level":"d0"},{"line":18.25,"col":28.1071,"level":"d1"},{"line":18.25,"col":28.3214,"level":"d1"},
{"line":18.25,"col":28.6786,"level":"d2"},{"line":18.25,"col":28.8929,"level":"d2"},{"line":18.25,"col":29.1071,"level":"d3"},{"line":18.25,"col":29.3214,"level":"d4"},
{"line":18.25,"col":29.6786,"level":"d10"},{"line":18.25,"col":29.8929,"level":"d13"},{"line":18.25,"col":30.1071,"level":"d12"},{"line":18.25,"col":30.3214,"level":"d11"},
{"line":18.25,"col":30.6786,"level":"d10"},{"line":18.25,"col":30.8929,"level":"d10"},{"line":18.25,"col":31.1071,"level":"d9"},{"line":18.25,"col":31.3214,"level":"d9"},
{"line":18.25,"col":31.6786,"level":"d8"},{"line":18.25,"col":31.8929,"level":"d7"},{"line":18.25,"col":32.1071,"level":"d7"},{"line":18.25,"col":32.3214,"level":"d8"},
{"line":18.25,"col":32.6786,"level":"d8"},{"line":18.25,"col":32.8929,"level":"d5"},{"line":18.25,"col":33.1071,"level":"d4"},{"line":18.25,"col":33.3214,"level":"d3"},
{"line":18.25,"col":35.6786,"level":"d0"},{"line":18.25,"col":35.8929,"level":"d0"},{"line":18.25,"col":36.1071,"level":"d1"},{"line":18.25,"col":36.3214,"level":"d1"},
{"line":18.25,"col":36.6786,"level":"d2"},{"line":18.25,"col":36.8929,"level":"d2"},{"line":18.25,"col":37.1071,"level":"d3"},{"line":18.25,"col":37.3214,"level":"d4"},
{"line":18.25,"col":37.6786,"level":"d9"},{"line":18.25,"col":37.8929,"level":"d13"},{"line":18.25,"col":38.1071,"level":"d13"},{"line":18.25,"col":38.3214,"level":"d13"},
{"line":18.25,"col":38.6786,"level":"d12"},{"line":18.25,"col":38.8929,"level":"d11"},{"line":18.25,"col":39.1071,"level":"d11"},{"line":18.25,"col":39.3214,"level":"d10"},
{"line":18.25,"col":39.6786,"level":"d9"},{"line":18.25,"col":39.8929,"level":"d8"},{"line":18.25,"col":40.1071,"level":"d8"},{"line":18.25,"col":40.3214,"level":"d7"},
{"line":18.25,"col":40.6786,"level":"d8"},{"line":18.25,"col":40.8929,"level":"d5"},{"line":18.25,"col":41.1071,"level":"d4"},{"line":18.25,"col":41.3214,"level":"d3"},
{"line":18.25,"col":43.6786,"level":"d0"},{"line":18.25,"col":43.8929,"level":"d0"},{"line":18.25,"col":44.1071,"level":"d1"},{"line":18.25,"col":44.3214,"level":"d1"},
{"line":18.25,"col":44.6786,"level":"d2"},{"line":18.25,"col":44.8929,"level":"d2"},{"line":18.25,"col":45.1071,"level":"d3"},{"line":18.25,"col":45.3214,"level":"d4"},
{"line":18.25,"col":45.6786,"level":"d9"},{"line":18.25,"col":45.8929,"level":"d13"},{"line":18.25,"col":46.1071,"level":"d13"},{"line":18.25,"col":46.3214,"level":"d13"},
{"line":18.25,"col":46.6786,"level":"d12"},{"line":18.25,"col":46.8929,"level":"d11"},{"line":18.25,"col":47.1071,"level":"d10"},{"line":18.25,"col":47.3214,"level":"d10"}],
"links":[
{"line":3,"col":0.5,"level":"p8"},{"line":3,"col":2.5,"level":"p6"},{"line":3,"col":3.5,"level":"p6"},{"line":3,"col":5.5,"level":"p3"},{"line":3,"col":6.5,"level":"p3"},{"line":3,"col":8.5,"level":"p3"},{"line":3,"col":9.5,"level":"p3"},{"line":3,"col":11.5,"level":"p3"},{"line":3,"col":12.5,"level":"p3"},{"line":3,"col":14.5,"level":"p6"},{"line":3,"col":15.5,"level":"p6"},{"line":3,"col":17.5,"level":"p6"},{"line":3,"col":18.5,"level":"p6"},{"line":3,"col":20.5,"level":"p8"},{"line":3,"col":21.5,"level":"p8"},{"line":3,"col":23.5,"level":"p6"},{"line":3,"col":24.5,"level":"p6"},{"line":3,"col":26.5,"level":"p8"},{"line":3,"col":27.5,"level":"p8"},{"line":3,"col":29.5,"level":"p6"},{"line":3,"col":30.5,"level":"p6"},{"line":3,"col":32.5,"level":"p6"},{"line":3,"col":33.5,"level":"p6"},{"line":3,"col":35.5,"level":"p3"},{"line":3,"col":36.5,"level":"p3"},{"line":3,"col":38.5,"level":"p3"},{"line":3,"col":39.5,"level":"p3"},{"line":3,"col":41.5,"level":"p3"},{"line":3,"col":42.5,"level":"p3"},{"line":3,"col":44.5,"level":"p3"},{"line":3,"col":45.5,"level":"p3"},{"line":3,"col":47.5,"level":"p6"},{"line":3,"col":48.5,"level":"p6"},{"line":3,"col":50.5,"level":"p6"},{"line":3,"col":51.5,"level":"p6"},{"line":3,"col":53.5,"level":"p8"},{"line":3,"col":54.5,"level":"p8"},{"line":3,"col":56.5,"level":"p6"},{"line":3,"col":57.5,"level":"p6"},{"line":3,"col":59.5,"level":"p3"},{"line":3,"col":60.5,"level":"p3"},{"line":3,"col":62.5,"level":"p6"},{"line":3,"col":63.5,"level":"p6"},{"line":3,"col":65.5,"level":"p8"},{"line":3,"col":66.5,"level":"p8"},{"line":3,"col":68.5,"level":"p3"},{"line":3,"col":69.5,"level":"p3"},{"line":3,"col":71.5,"level":"p6"},{"line":3,"col":72.5,"level":"p6"},{"line":3,"col":74.5,"level":"p6"},{"line":3,"col":75.5,"level":"p6"},{"line":3,"col":77.5,"level":"p6"},{"line":3,"col":78.5,"level":"p6"},{"line":3,"col":80.5,"level":"p3"},
{"line":1,"col":58.5,"level":"p0"},{"line":1,"col":59.5,"level":"p0"},{"line":1,"col":60.5,"level":"p0"},{"line":1,"col":61.5,"level":"p0"},{"line":1,"col":62.5,"level":"p0"},{"line":1,"col":64.5,"level":"p0"},{"line":1,"col":65.5,"level":"p0"},{"line":1,"col":66.5,"level":"p0"},{"line":1,"col":67.5,"level":"p0"},{"line":1,"col":68.5,"level":"p0"},{"line":1,"col":70.5,"level":"p0"},{"line":1,"col":71.5,"level":"p0"},{"line":1,"col":72.5,"level":"p0"},{"line":1,"col":73.5,"level":"p0"},{"line":1,"col":74.5,"level":"p0"},{"line":1,"col":76.5,"level":"p6"},{"line":1,"col":77.5,"level":"p6"},{"line":1,"col":78.5,"level":"p6"},{"line":1,"col":79.5,"level":"p6"},{"line":1,"col":80.5,"level":"p6"},
{"line":17.25,"col":0.5,"level":"p1"},{"line":17.25,"col":2.5,"level":"p1"},{"line":17.25,"col":4.5,"level":"p2"},{"line":17.25,"col":6.5,"level":"p8"},{"line":17.25,"col":8.5,"level":"p1"},{"line":17.25,"col":10.5,"level":"p2"},{"line":17.25,"col":12.5,"level":"p2"},{"line":17.25,"col":14.5,"level":"p2"},{"line":17.25,"col":16.5,"level":"p1"},{"line":17.25,"col":18.5,"level":"p1"},{"line":17.25,"col":20.5,"level":"p2"},{"line":17.25,"col":22.5,"level":"p3"},{"line":17.25,"col":24.5,"level":"p3"},{"line":17.25,"col":26.5,"level":"p1"},{"line":17.25,"col":28.5,"level":"p3"},{"line":17.25,"col":30.5,"level":"p5"},{"line":17.25,"col":32.5,"level":"p2"},{"line":17.25,"col":34.5,"level":"p1"},{"line":17.25,"col":36.5,"level":"p2"},{"line":17.25,"col":38.5,"level":"p8"},{"line":17.25,"col":40.5,"level":"p9"},{"line":17.25,"col":42.5,"level":"p2"},{"line":17.25,"col":44.5,"level":"p6"},{"line":17.25,"col":46.5,"level":"p10"}],
"rules":[{"col":9.571,"line":-0.375,"lineEnd":10.375,"level":"tred"},{"col":33.571,"line":-0.375,"lineEnd":10.375,"level":"tred"},{"col":57.571,"line":-0.375,"lineEnd":10.375,"level":"tred"},{"col":81.571,"line":-0.375,"lineEnd":10.375,"level":"tred"},{"col":7.571,"line":15.875,"lineEnd":18.625,"level":"tred"},{"col":15.571,"line":15.875,"lineEnd":18.625,"level":"tred"},{"col":23.571,"line":15.875,"lineEnd":18.625,"level":"tred"},{"col":31.571,"line":15.875,"lineEnd":18.625,"level":"tred"},{"col":39.571,"line":15.875,"lineEnd":18.625,"level":"tred"},{"col":47.571,"line":15.875,"lineEnd":18.625,"level":"tred"}],
"titles":[{"line":-4.4,"col":17.857,"level":"tyellow","label":"Lowell Discovery Telescope"},{"line":-4.4,"col":41.07,"level":"tcyan","label":"Clear Sky Chart"}],
"labels":[{"line":-2.97,"col":-9.857,"level":"tgreen","label":"2026-07-26"},{"line":-2.03,"col":-9.857,"level":"tolive","label":"Local Time"},{"line":-2.97,"col":-0.357,"level":"tgreen","label":"Sunday, 26"},{"line":-2.97,"col":19.571,"level":"tyellow","label":"Monday, 27"},{"line":-2.97,"col":43.643,"level":"tsalmon","label":"Tuesday, 28"},{"line":-2.97,"col":67.643,"level":"tmagenta","label":"Wednesday, 29"},{"line":-0.05,"col":-9,"level":"twhite","label":"Cloud Cover:"},{"line":0.95,"col":-9,"level":"twhite","label":"ECMWF Cloud:"},{"line":1.95,"col":-9,"level":"twhite","label":"Transparency:"},{"line":2.95,"col":-9,"level":"twhite","label":"Seeing:"},{"line":3.95,"col":-9,"level":"tgray","label":"Darkness:"},{"line":6.95,"col":-9,"level":"twhite","label":"Smoke:"},{"line":7.95,"col":-9,"level":"twhite","label":"Wind:"},{"line":8.95,"col":-9,"level":"twhite","label":"Humidity:"},{"line":9.95,"col":-9,"level":"twhite","label":"Temperature:"},{"line":12.09,"col":-10,"level":"tred","label":"EXTENDED Forecast. Each block is 3 hours. (A sponsored feature)"},{"line":13.28,"col":-9.857,"level":"tmagenta","label":"2026-07-30"},{"line":14.22,"col":-9.857,"level":"tolive","label":"Local Time"},{"line":13.28,"col":2.214,"level":"tmagenta","label":"Thu, 30"},{"line":13.28,"col":10.214,"level":"tblue","label":"Fri, 31"},{"line":13.28,"col":18.214,"level":"tgreen","label":"Sat, 1"},{"line":13.28,"col":26.214,"level":"tyellow","label":"Sun, 2"},{"line":13.28,"col":34.214,"level":"tsalmon","label":"Mon, 3"},{"line":13.28,"col":42.214,"level":"tmagenta","label":"Tue, 4"},{"line":16.2,"col":-9,"level":"twhite","label":"Cloud Cover:"},{"line":17.2,"col":-9,"level":"twhite","label":"ECMWF Cloud:"},{"line":18.2,"col":-9,"level":"tgray","label":"Darkness:"},{"line":20.78,"col":11.571,"level":"twhite","label":"© 2026 Attilla Danko \u00a0forecast: A.Rahill \u00a0data:"}],
"small":[{"line":-1.375,"col":-9.786,"level":"tolive","label":"(GMT -7+0)"},{"line":14.9375,"col":-9.786,"level":"tolive","label":"(GMT -7+0)"}],
"logo":[{"line":20.625,"col":51.143,"level":"tblack","label":"Environment"},{"line":21.125,"col":51.143,"level":"tblack","label":"Canada"},{"line":20.625,"col":55.786,"level":"tblack","label":"Environnement"},{"line":21.125,"col":55.786,"level":"tblack","label":"Canada"}],
"side":[{"line":2.0,"col":-9.571,"level":"tyellow","label":"--- Sky ---"},{"line":8.5,"col":-9.571,"level":"tground","label":"- Ground -"},{"line":17.25,"col":-9.571,"level":"tyellow","label":"- Sky -"}],
"leaf":[{"line":20.8,"col":49.18,"level":"tred"}],
"digits":[
{"line":-1.125,"col":0,"level":"tgreen","label":"4"},{"line":-1.125,"col":1,"level":"tgreen","label":"5"},{"line":-1.125,"col":2,"level":"tgreen","label":"6"},{"line":-1.125,"col":3,"level":"tgreen","label":"7"},{"line":-1.125,"col":4,"level":"tgreen","label":"8"},{"line":-1.125,"col":5,"level":"tgreen","label":"9"},{"line":-1.125,"col":6,"level":"tgreen","label":"0"},{"line":-1.125,"col":7,"level":"tgreen","label":"1"},{"line":-1.125,"col":8,"level":"tgreen","label":"2"},{"line":-1.125,"col":9,"level":"tgreen","label":"3"},
{"line":-2.0625,"col":0,"level":"tgreen","label":"1"},{"line":-2.0625,"col":1,"level":"tgreen","label":"1"},{"line":-2.0625,"col":2,"level":"tgreen","label":"1"},{"line":-2.0625,"col":3,"level":"tgreen","label":"1"},{"line":-2.0625,"col":4,"level":"tgreen","label":"1"},{"line":-2.0625,"col":5,"level":"tgreen","label":"1"},{"line":-2.0625,"col":6,"level":"tgreen","label":"2"},{"line":-2.0625,"col":7,"level":"tgreen","label":"2"},{"line":-2.0625,"col":8,"level":"tgreen","label":"2"},{"line":-2.0625,"col":9,"level":"tgreen","label":"2"},
{"line":-1.125,"col":10,"level":"tyellow","label":"0"},{"line":-1.125,"col":11,"level":"tyellow","label":"1"},{"line":-1.125,"col":12,"level":"tyellow","label":"2"},{"line":-1.125,"col":13,"level":"tyellow","label":"3"},{"line":-1.125,"col":14,"level":"tyellow","label":"4"},{"line":-1.125,"col":15,"level":"tyellow","label":"5"},{"line":-1.125,"col":16,"level":"tyellow","label":"6"},{"line":-1.125,"col":17,"level":"tyellow","label":"7"},{"line":-1.125,"col":18,"level":"tyellow","label":"8"},{"line":-1.125,"col":19,"level":"tyellow","label":"9"},{"line":-1.125,"col":20,"level":"tyellow","label":"0"},{"line":-1.125,"col":21,"level":"tyellow","label":"1"},{"line":-1.125,"col":22,"level":"tyellow","label":"2"},{"line":-1.125,"col":23,"level":"tyellow","label":"3"},{"line":-1.125,"col":24,"level":"tyellow","label":"4"},{"line":-1.125,"col":25,"level":"tyellow","label":"5"},{"line":-1.125,"col":26,"level":"tyellow","label":"6"},{"line":-1.125,"col":27,"level":"tyellow","label":"7"},{"line":-1.125,"col":28,"level":"tyellow","label":"8"},{"line":-1.125,"col":29,"level":"tyellow","label":"9"},{"line":-1.125,"col":30,"level":"tyellow","label":"0"},{"line":-1.125,"col":31,"level":"tyellow","label":"1"},{"line":-1.125,"col":32,"level":"tyellow","label":"2"},{"line":-1.125,"col":33,"level":"tyellow","label":"3"},
{"line":-2.0625,"col":20,"level":"tyellow","label":"1"},{"line":-2.0625,"col":21,"level":"tyellow","label":"1"},{"line":-2.0625,"col":22,"level":"tyellow","label":"1"},{"line":-2.0625,"col":23,"level":"tyellow","label":"1"},{"line":-2.0625,"col":24,"level":"tyellow","label":"1"},{"line":-2.0625,"col":25,"level":"tyellow","label":"1"},{"line":-2.0625,"col":26,"level":"tyellow","label":"1"},{"line":-2.0625,"col":27,"level":"tyellow","label":"1"},{"line":-2.0625,"col":28,"level":"tyellow","label":"1"},{"line":-2.0625,"col":29,"level":"tyellow","label":"1"},{"line":-2.0625,"col":30,"level":"tyellow","label":"2"},{"line":-2.0625,"col":31,"level":"tyellow","label":"2"},{"line":-2.0625,"col":32,"level":"tyellow","label":"2"},{"line":-2.0625,"col":33,"level":"tyellow","label":"2"},
{"line":-1.125,"col":34,"level":"tsalmon","label":"0"},{"line":-1.125,"col":35,"level":"tsalmon","label":"1"},{"line":-1.125,"col":36,"level":"tsalmon","label":"2"},{"line":-1.125,"col":37,"level":"tsalmon","label":"3"},{"line":-1.125,"col":38,"level":"tsalmon","label":"4"},{"line":-1.125,"col":39,"level":"tsalmon","label":"5"},{"line":-1.125,"col":40,"level":"tsalmon","label":"6"},{"line":-1.125,"col":41,"level":"tsalmon","label":"7"},{"line":-1.125,"col":42,"level":"tsalmon","label":"8"},{"line":-1.125,"col":43,"level":"tsalmon","label":"9"},{"line":-1.125,"col":44,"level":"tsalmon","label":"0"},{"line":-1.125,"col":45,"level":"tsalmon","label":"1"},{"line":-1.125,"col":46,"level":"tsalmon","label":"2"},{"line":-1.125,"col":47,"level":"tsalmon","label":"3"},{"line":-1.125,"col":48,"level":"tsalmon","label":"4"},{"line":-1.125,"col":49,"level":"tsalmon","label":"5"},{"line":-1.125,"col":50,"level":"tsalmon","label":"6"},{"line":-1.125,"col":51,"level":"tsalmon","label":"7"},{"line":-1.125,"col":52,"level":"tsalmon","label":"8"},{"line":-1.125,"col":53,"level":"tsalmon","label":"9"},{"line":-1.125,"col":54,"level":"tsalmon","label":"0"},{"line":-1.125,"col":55,"level":"tsalmon","label":"1"},{"line":-1.125,"col":56,"level":"tsalmon","label":"2"},{"line":-1.125,"col":57,"level":"tsalmon","label":"3"},
{"line":-2.0625,"col":44,"level":"tsalmon","label":"1"},{"line":-2.0625,"col":45,"level":"tsalmon","label":"1"},{"line":-2.0625,"col":46,"level":"tsalmon","label":"1"},{"line":-2.0625,"col":47,"level":"tsalmon","label":"1"},{"line":-2.0625,"col":48,"level":"tsalmon","label":"1"},{"line":-2.0625,"col":49,"level":"tsalmon","label":"1"},{"line":-2.0625,"col":50,"level":"tsalmon","label":"1"},{"line":-2.0625,"col":51,"level":"tsalmon","label":"1"},{"line":-2.0625,"col":52,"level":"tsalmon","label":"1"},{"line":-2.0625,"col":53,"level":"tsalmon","label":"1"},{"line":-2.0625,"col":54,"level":"tsalmon","label":"2"},{"line":-2.0625,"col":55,"level":"tsalmon","label":"2"},{"line":-2.0625,"col":56,"level":"tsalmon","label":"2"},{"line":-2.0625,"col":57,"level":"tsalmon","label":"2"},
{"line":-1.125,"col":58,"level":"tmagenta","label":"0"},{"line":-1.125,"col":59,"level":"tmagenta","label":"1"},{"line":-1.125,"col":60,"level":"tmagenta","label":"2"},{"line":-1.125,"col":61,"level":"tmagenta","label":"3"},{"line":-1.125,"col":62,"level":"tmagenta","label":"4"},{"line":-1.125,"col":63,"level":"tmagenta","label":"5"},{"line":-1.125,"col":64,"level":"tmagenta","label":"6"},{"line":-1.125,"col":65,"level":"tmagenta","label":"7"},{"line":-1.125,"col":66,"level":"tmagenta","label":"8"},{"line":-1.125,"col":67,"level":"tmagenta","label":"9"},{"line":-1.125,"col":68,"level":"tmagenta","label":"0"},{"line":-1.125,"col":69,"level":"tmagenta","label":"1"},{"line":-1.125,"col":70,"level":"tmagenta","label":"2"},{"line":-1.125,"col":71,"level":"tmagenta","label":"3"},{"line":-1.125,"col":72,"level":"tmagenta","label":"4"},{"line":-1.125,"col":73,"level":"tmagenta","label":"5"},{"line":-1.125,"col":74,"level":"tmagenta","label":"6"},{"line":-1.125,"col":75,"level":"tmagenta","label":"7"},{"line":-1.125,"col":76,"level":"tmagenta","label":"8"},{"line":-1.125,"col":77,"level":"tmagenta","label":"9"},{"line":-1.125,"col":78,"level":"tmagenta","label":"0"},{"line":-1.125,"col":79,"level":"tmagenta","label":"1"},{"line":-1.125,"col":80,"level":"tmagenta","label":"2"},{"line":-1.125,"col":81,"level":"tmagenta","label":"3"},
{"line":-2.0625,"col":68,"level":"tmagenta","label":"1"},{"line":-2.0625,"col":69,"level":"tmagenta","label":"1"},{"line":-2.0625,"col":70,"level":"tmagenta","label":"1"},{"line":-2.0625,"col":71,"level":"tmagenta","label":"1"},{"line":-2.0625,"col":72,"level":"tmagenta","label":"1"},{"line":-2.0625,"col":73,"level":"tmagenta","label":"1"},{"line":-2.0625,"col":74,"level":"tmagenta","label":"1"},{"line":-2.0625,"col":75,"level":"tmagenta","label":"1"},{"line":-2.0625,"col":76,"level":"tmagenta","label":"1"},{"line":-2.0625,"col":77,"level":"tmagenta","label":"1"},{"line":-2.0625,"col":78,"level":"tmagenta","label":"2"},{"line":-2.0625,"col":79,"level":"tmagenta","label":"2"},{"line":-2.0625,"col":80,"level":"tmagenta","label":"2"},{"line":-2.0625,"col":81,"level":"tmagenta","label":"2"},
{"line":15.125,"col":0,"level":"tmagenta","label":"2"},{"line":15.125,"col":1,"level":"tmagenta","label":"5"},{"line":15.125,"col":2,"level":"tmagenta","label":"8"},{"line":15.125,"col":3,"level":"tmagenta","label":"1"},{"line":15.125,"col":4,"level":"tmagenta","label":"4"},{"line":15.125,"col":5,"level":"tmagenta","label":"7"},{"line":15.125,"col":6,"level":"tmagenta","label":"0"},{"line":15.125,"col":7,"level":"tmagenta","label":"3"},
{"line":14.1875,"col":3,"level":"tmagenta","label":"1"},{"line":14.1875,"col":4,"level":"tmagenta","label":"1"},{"line":14.1875,"col":5,"level":"tmagenta","label":"1"},{"line":14.1875,"col":6,"level":"tmagenta","label":"2"},{"line":14.1875,"col":7,"level":"tmagenta","label":"2"},
{"line":15.125,"col":8,"level":"tblue","label":"2"},{"line":15.125,"col":9,"level":"tblue","label":"5"},{"line":15.125,"col":10,"level":"tblue","label":"8"},{"line":15.125,"col":11,"level":"tblue","label":"1"},{"line":15.125,"col":12,"level":"tblue","label":"4"},{"line":15.125,"col":13,"level":"tblue","label":"7"},{"line":15.125,"col":14,"level":"tblue","label":"0"},{"line":15.125,"col":15,"level":"tblue","label":"3"},
{"line":14.1875,"col":11,"level":"tblue","label":"1"},{"line":14.1875,"col":12,"level":"tblue","label":"1"},{"line":14.1875,"col":13,"level":"tblue","label":"1"},{"line":14.1875,"col":14,"level":"tblue","label":"2"},{"line":14.1875,"col":15,"level":"tblue","label":"2"},
{"line":15.125,"col":16,"level":"tgreen","label":"2"},{"line":15.125,"col":17,"level":"tgreen","label":"5"},{"line":15.125,"col":18,"level":"tgreen","label":"8"},{"line":15.125,"col":19,"level":"tgreen","label":"1"},{"line":15.125,"col":20,"level":"tgreen","label":"4"},{"line":15.125,"col":21,"level":"tgreen","label":"7"},{"line":15.125,"col":22,"level":"tgreen","label":"0"},{"line":15.125,"col":23,"level":"tgreen","label":"3"},
{"line":14.1875,"col":19,"level":"tgreen","label":"1"},{"line":14.1875,"col":20,"level":"tgreen","label":"1"},{"line":14.1875,"col":21,"level":"tgreen","label":"1"},{"line":14.1875,"col":22,"level":"tgreen","label":"2"},{"line":14.1875,"col":23,"level":"tgreen","label":"2"},
{"line":15.125,"col":24,"level":"tyellow","label":"2"},{"line":15.125,"col":25,"level":"tyellow","label":"5"},{"line":15.125,"col":26,"level":"tyellow","label":"8"},{"line":15.125,"col":27,"level":"tyellow","label":"1"},{"line":15.125,"col":28,"level":"tyellow","label":"4"},{"line":15.125,"col":29,"level":"tyellow","label":"7"},{"line":15.125,"col":30,"level":"tyellow","label":"0"},{"line":15.125,"col":31,"level":"tyellow","label":"3"},
{"line":14.1875,"col":27,"level":"tyellow","label":"1"},{"line":14.1875,"col":28,"level":"tyellow","label":"1"},{"line":14.1875,"col":29,"level":"tyellow","label":"1"},{"line":14.1875,"col":30,"level":"tyellow","label":"2"},{"line":14.1875,"col":31,"level":"tyellow","label":"2"},
{"line":15.125,"col":32,"level":"tsalmon","label":"2"},{"line":15.125,"col":33,"level":"tsalmon","label":"5"},{"line":15.125,"col":34,"level":"tsalmon","label":"8"},{"line":15.125,"col":35,"level":"tsalmon","label":"1"},{"line":15.125,"col":36,"level":"tsalmon","label":"4"},{"line":15.125,"col":37,"level":"tsalmon","label":"7"},{"line":15.125,"col":38,"level":"tsalmon","label":"0"},{"line":15.125,"col":39,"level":"tsalmon","label":"3"},
{"line":14.1875,"col":35,"level":"tsalmon","label":"1"},{"line":14.1875,"col":36,"level":"tsalmon","label":"1"},{"line":14.1875,"col":37,"level":"tsalmon","label":"1"},{"line":14.1875,"col":38,"level":"tsalmon","label":"2"},{"line":14.1875,"col":39,"level":"tsalmon","label":"2"},
{"line":15.125,"col":40,"level":"tmagenta","label":"2"},{"line":15.125,"col":41,"level":"tmagenta","label":"5"},{"line":15.125,"col":42,"level":"tmagenta","label":"8"},{"line":15.125,"col":43,"level":"tmagenta","label":"1"},{"line":15.125,"col":44,"level":"tmagenta","label":"4"},{"line":15.125,"col":45,"level":"tmagenta","label":"7"},{"line":15.125,"col":46,"level":"tmagenta","label":"0"},{"line":15.125,"col":47,"level":"tmagenta","label":"3"},
{"line":14.1875,"col":43,"level":"tmagenta","label":"1"},{"line":14.1875,"col":44,"level":"tmagenta","label":"1"},{"line":14.1875,"col":45,"level":"tmagenta","label":"1"},{"line":14.1875,"col":46,"level":"tmagenta","label":"2"},{"line":14.1875,"col":47,"level":"tmagenta","label":"2"}]
},
"encoding":{
"x":{"field":"col","type":"quantitative","axis":null,"scale":{"domain":[-10,81.7143],"nice":false,"zero":false}},
"y":{"field":"line","type":"quantitative","axis":null,"scale":{"domain":[-5.1875,21.3125],"reverse":true,"nice":false,"zero":false}},
"color":{"field":"level","type":"nominal","legend":null,"scale":{
"domain":["p0","p1","p2","p3","p4","p5","p6","p7","p8","p9","p10","p11","p12","d0","d1","d2","d3","d4","d5","d6","d7","d8","d9","d10","d11","d12","d13","cyan","mint","lime","lemon","gold","sage","scarlet","tangerine","fire","hot","amber","sky","ground","band","twhite","tyellow","tcyan","tgreen","tsalmon","tmagenta","tblue","tolive","tred","tgray","tblack","tground"],
"range":["#003f7f","#0e4c8c","#1a5a9a","#2c6cac","#3f80c8","#4f8fd3","#60a0e6","#72b2f4","#96d6d6","#aeeeee","#c2c2c2","#eeeeee","#ffffff","#ffffff","#fff8ee","#ffeed8","#ffdcb0","#ffc070","#ff9a20","#00e5ff","#00a0ff","#0078f0","#0060e0","#0048c8","#0030b0","#001a90","#000a60","#00ffee","#5cffb0","#9cff66","#eeff18","#ffc800","#86c0c0","#ff3c00","#ff8000","#ff2000","#ff5a00","#ffa000","#0060f0","#4c6000","#808080","#ffffff","#ffff00","#00cccc","#66ff66","#ff6a6a","#ff00ff","#6a6aff","#cccc00","#ff0000","#5c5c5c","#000000","#ffffcc"]}}
},
"layer":[
{"data":{"name":"panels"},"mark":{"type":"rect"},"encoding":{"x2":{"field":"colEnd"},"y2":{"field":"lineEnd"}}},
{"data":{"name":"cells"},"mark":{"type":"rect","width":12,"height":12}},
{"data":{"name":"strips"},"mark":{"type":"rect","width":3,"height":12}},
{"data":{"name":"links"},"mark":{"type":"rect","width":2,"height":8}},
{"data":{"name":"rules"},"mark":{"type":"rule","strokeWidth":2},"encoding":{"y2":{"field":"lineEnd"}}},
{"data":{"name":"leaf"},"mark":{"type":"point","filled":true,"opacity":1,"size":45,"shape":"M0,-1 L0.25,-0.55 L0.5,-0.65 L0.4,-0.15 L0.9,-0.3 L0.75,0.05 L1,0.2 L0.35,0.6 L0.05,0.55 L0.05,1 L-0.05,1 L-0.05,0.55 L-0.35,0.6 L-1,0.2 L-0.75,0.05 L-0.9,-0.3 L-0.4,-0.15 L-0.5,-0.65 L-0.25,-0.55 Z"}},
{"data":{"name":"titles"},"mark":{"type":"text","align":"left","baseline":"middle","fontSize":20,"fontWeight":"bold"},"encoding":{"text":{"field":"label"}}},
{"data":{"name":"labels"},"mark":{"type":"text","align":"left","baseline":"middle","fontSize":15},"encoding":{"text":{"field":"label"}}},
{"data":{"name":"digits"},"mark":{"type":"text","align":"center","baseline":"middle","fontSize":14},"encoding":{"text":{"field":"label"}}},
{"data":{"name":"small"},"mark":{"type":"text","align":"left","baseline":"middle","fontSize":8,"fontWeight":"bold"},"encoding":{"text":{"field":"label"}}},
{"data":{"name":"logo"},"mark":{"type":"text","align":"left","baseline":"middle","fontSize":8,"font":"DejaVu Sans"},"encoding":{"text":{"field":"label"}}},
{"data":{"name":"side"},"mark":{"type":"text","align":"center","baseline":"middle","fontSize":10,"angle":270},"encoding":{"text":{"field":"label"}}}
]}
